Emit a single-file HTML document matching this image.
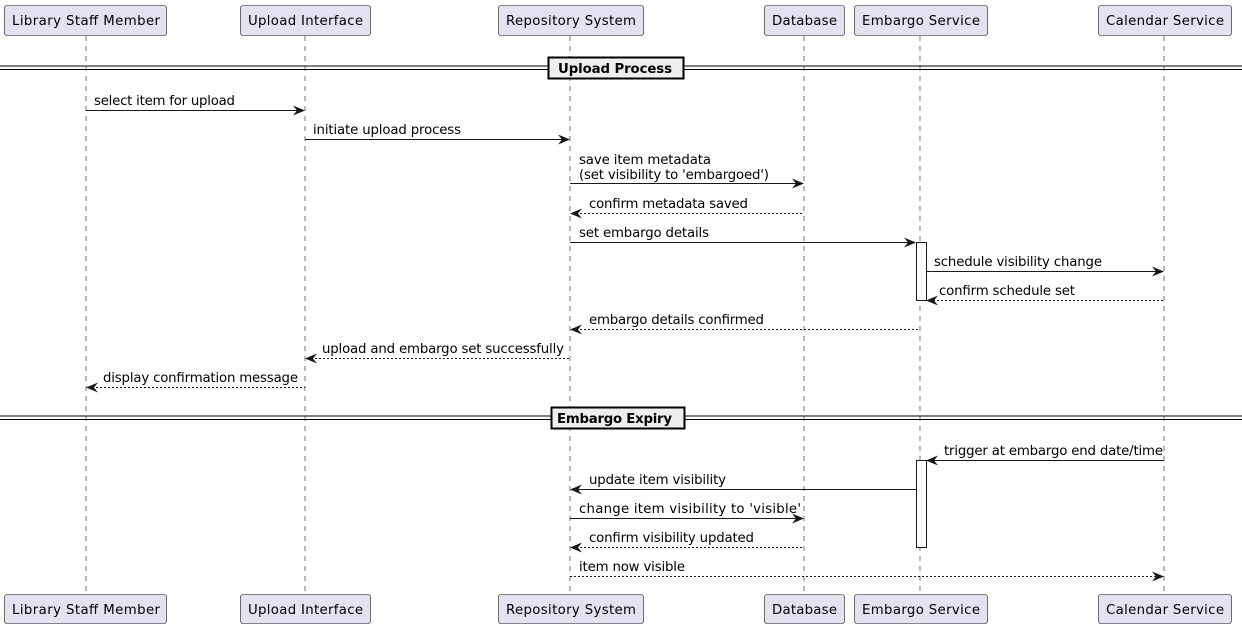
<!DOCTYPE html>
<html><head><meta charset="utf-8"><style>
html,body{margin:0;padding:0;background:#fff;}
svg{display:block;}
text{font-family:"DejaVu Sans","Liberation Sans",sans-serif;font-size:13.3px;fill:#000;}
.b{fill:#e2e2f0;stroke:#181818;stroke-width:0.6;}
.ll{stroke:#181818;stroke-width:0.6;stroke-dasharray:5,5;}
.s{stroke:#181818;stroke-width:1;}
.d{stroke:#181818;stroke-width:1;stroke-dasharray:2,2;}
.h{fill:#181818;}
</style></head><body>
<svg width="1242" height="628" viewBox="0 0 1242 628" xmlns="http://www.w3.org/2000/svg">
<line class="ll" x1="86" y1="36" x2="86" y2="594"/>
<line class="ll" x1="305" y1="36" x2="305" y2="594"/>
<line class="ll" x1="570" y1="36" x2="570" y2="594"/>
<line class="ll" x1="804" y1="36" x2="804" y2="594"/>
<line class="ll" x1="920" y1="36" x2="920" y2="594"/>
<line class="ll" x1="1164" y1="36" x2="1164" y2="594"/>
<rect class="b" x="4.5" y="5.5" width="162" height="30" rx="2.5"/><text x="12" y="25" textLength="148">Library Staff Member</text>
<rect class="b" x="240.5" y="5.5" width="130" height="30" rx="2.5"/><text x="248" y="25" textLength="115">Upload Interface</text>
<rect class="b" x="498.5" y="5.5" width="145" height="30" rx="2.5"/><text x="506" y="25" textLength="130">Repository System</text>
<rect class="b" x="764.5" y="5.5" width="80" height="30" rx="2.5"/><text x="772" y="25" textLength="65">Database</text>
<rect class="b" x="854.5" y="5.5" width="133" height="30" rx="2.5"/><text x="862" y="25" textLength="118">Embargo Service</text>
<rect class="b" x="1098.5" y="5.5" width="133" height="30" rx="2.5"/><text x="1106" y="25" textLength="118">Calendar Service</text>
<rect class="b" x="4.5" y="594.5" width="162" height="29" rx="2.5"/><text x="12" y="614" textLength="148">Library Staff Member</text>
<rect class="b" x="240.5" y="594.5" width="130" height="29" rx="2.5"/><text x="248" y="614" textLength="115">Upload Interface</text>
<rect class="b" x="498.5" y="594.5" width="145" height="29" rx="2.5"/><text x="506" y="614" textLength="130">Repository System</text>
<rect class="b" x="764.5" y="594.5" width="80" height="29" rx="2.5"/><text x="772" y="614" textLength="65">Database</text>
<rect class="b" x="854.5" y="594.5" width="133" height="29" rx="2.5"/><text x="862" y="614" textLength="118">Embargo Service</text>
<rect class="b" x="1098.5" y="594.5" width="133" height="29" rx="2.5"/><text x="1106" y="614" textLength="118">Calendar Service</text>
<line x1="0" y1="66" x2="1242" y2="66" stroke="#000" stroke-width="1"/>
<line x1="0" y1="69.5" x2="1242" y2="69.5" stroke="#000" stroke-width="1"/>
<rect x="548.5" y="57.5" width="135" height="21" fill="#eee" stroke="#000" stroke-width="2"/>
<text x="558" y="73" style="font-weight:bold" textLength="114">Upload Process</text>
<line x1="0" y1="416" x2="1242" y2="416" stroke="#000" stroke-width="1"/>
<line x1="0" y1="419.5" x2="1242" y2="419.5" stroke="#000" stroke-width="1"/>
<rect x="551.5" y="407.5" width="133" height="21" fill="#eee" stroke="#000" stroke-width="2"/>
<text x="557" y="423" style="font-weight:bold" textLength="115">Embargo Expiry</text>
<rect x="916.5" y="242.5" width="10" height="58" fill="#fff" stroke="#181818"/>
<rect x="916.5" y="460.5" width="10" height="87" fill="#fff" stroke="#181818"/>
<line class="s" x1="86" y1="110.5" x2="303" y2="110.5"/><polygon class="h" points="305,110.5 293,105.5 297,110.5 293,115.5"/><text x="94" y="105" textLength="141">select item for upload</text>
<line class="s" x1="305" y1="139.5" x2="568" y2="139.5"/><polygon class="h" points="570,139.5 558,134.5 562,139.5 558,144.5"/><text x="313" y="134" textLength="148">initiate upload process</text>
<line class="s" x1="570" y1="183.5" x2="802" y2="183.5"/><polygon class="h" points="804,183.5 792,178.5 796,183.5 792,188.5"/><text x="579" y="164" textLength="132">save item metadata</text><text x="579" y="179" textLength="190">(set visibility to 'embargoed')</text>
<line class="d" x1="572" y1="213.5" x2="804" y2="213.5"/><polygon class="h" points="570,213.5 582,208.5 578,213.5 582,218.5"/><text x="589" y="208" textLength="159">confirm metadata saved</text>
<line class="s" x1="570" y1="242.5" x2="914" y2="242.5"/><polygon class="h" points="916,242.5 904,237.5 908,242.5 904,247.5"/><text x="579" y="237" textLength="130">set embargo details</text>
<line class="s" x1="926" y1="271.5" x2="1162" y2="271.5"/><polygon class="h" points="1164,271.5 1152,266.5 1156,271.5 1152,276.5"/><text x="934" y="266" textLength="168">schedule visibility change</text>
<line class="d" x1="929" y1="300.5" x2="1164" y2="300.5"/><polygon class="h" points="926,300.5 938,295.5 934,300.5 938,305.5"/><text x="939" y="295" textLength="136">confirm schedule set</text>
<line class="d" x1="572" y1="329.5" x2="920" y2="329.5"/><polygon class="h" points="570,329.5 582,324.5 578,329.5 582,334.5"/><text x="589" y="324" textLength="175">embargo details confirmed</text>
<line class="d" x1="307" y1="358.5" x2="570" y2="358.5"/><polygon class="h" points="305,358.5 317,353.5 313,358.5 317,363.5"/><text x="322" y="353" textLength="242">upload and embargo set successfully</text>
<line class="d" x1="88" y1="387.5" x2="305" y2="387.5"/><polygon class="h" points="86,387.5 98,382.5 94,387.5 98,392.5"/><text x="103" y="382" textLength="195">display confirmation message</text>
<line class="s" x1="929" y1="460.5" x2="1164" y2="460.5"/><polygon class="h" points="926,460.5 938,455.5 934,460.5 938,465.5"/><text x="944" y="455" textLength="219">trigger at embargo end date/time</text>
<line class="s" x1="572" y1="489.5" x2="916" y2="489.5"/><polygon class="h" points="570,489.5 582,484.5 578,489.5 582,494.5"/><text x="589" y="484" textLength="137">update item visibility</text>
<line class="s" x1="570" y1="518.5" x2="802" y2="518.5"/><polygon class="h" points="804,518.5 792,513.5 796,518.5 792,523.5"/><text x="579" y="513" textLength="222">change item visibility to 'visible'</text>
<line class="d" x1="572" y1="547.5" x2="804" y2="547.5"/><polygon class="h" points="570,547.5 582,542.5 578,547.5 582,552.5"/><text x="589" y="542" textLength="165">confirm visibility updated</text>
<line class="d" x1="570" y1="576.5" x2="1162" y2="576.5"/><polygon class="h" points="1164,576.5 1152,571.5 1156,576.5 1152,581.5"/><text x="579" y="571" textLength="106">item now visible</text>
</svg>
</body></html>
